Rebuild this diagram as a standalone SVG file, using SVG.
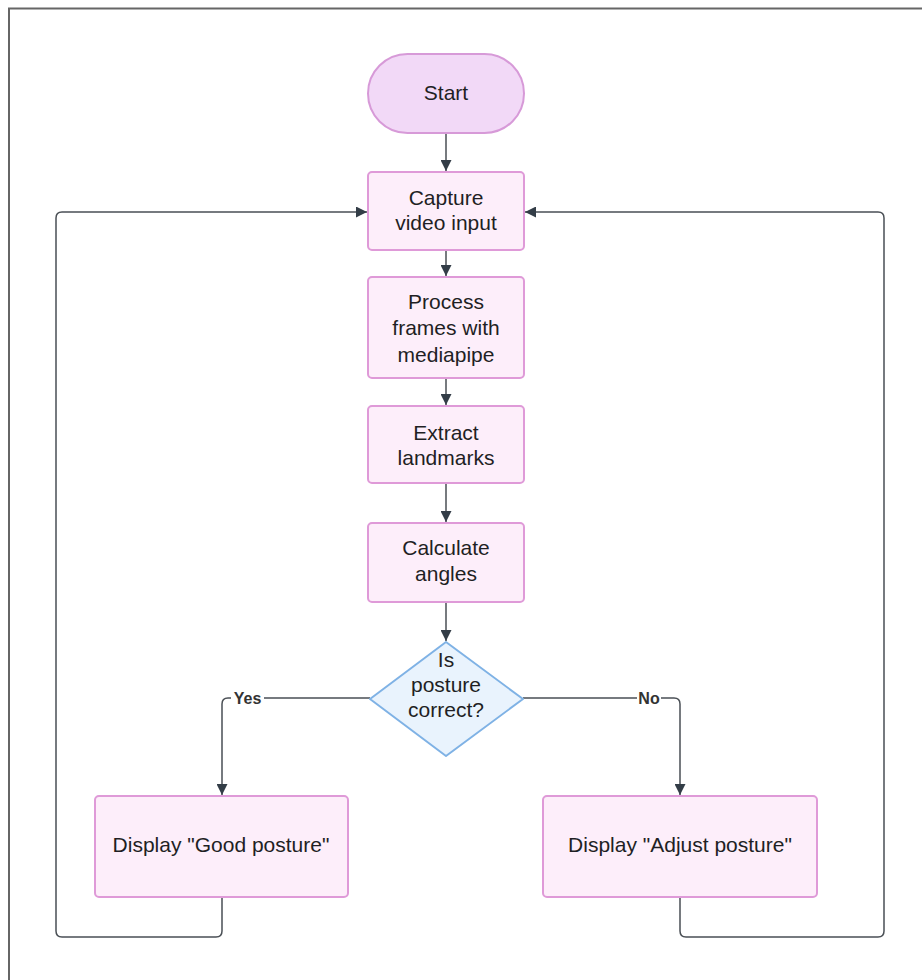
<svg xmlns="http://www.w3.org/2000/svg" width="922" height="980" viewBox="0 0 922 980">
<defs>
<style>
.proc{fill:#fdeefa;stroke:#df9ad8;stroke-width:2}
.term{fill:#f2d9f7;stroke:#d79ad8;stroke-width:2}
.dec{fill:#e9f3fd;stroke:#7fb2e5;stroke-width:2}
.t{font-family:"Liberation Sans",Arial,sans-serif;font-size:21px;fill:#1f1f24;text-anchor:middle}
.lbl{font-family:"Liberation Sans",Arial,sans-serif;font-size:16px;font-weight:bold;fill:#333;text-anchor:middle}
.c{fill:none;stroke:#4a4f55;stroke-width:1.5}
</style>
<marker id="ah" viewBox="0 0 10 10" refX="10" refY="5" markerWidth="11" markerHeight="11" markerUnits="userSpaceOnUse" orient="auto">
<path d="M0,0 L10,5 L0,10 z" fill="#333d47"/>
</marker>
</defs>
<rect width="922" height="980" fill="#ffffff"/>
<path d="M9,980 V8.5 H922" fill="none" stroke="#666" stroke-width="2"/>
<g id="connectors">
<path class="c" d="M446,133 V171" marker-end="url(#ah)"/>
<path class="c" d="M446,250 V276" marker-end="url(#ah)"/>
<path class="c" d="M446,378 V405" marker-end="url(#ah)"/>
<path class="c" d="M446,483 V522" marker-end="url(#ah)"/>
<path class="c" d="M446,602 V641" marker-end="url(#ah)"/>
<path class="c" d="M370,698 H228 Q222,698 222,704 V795" marker-end="url(#ah)"/>
<path class="c" d="M523,698 H674 Q680,698 680,704 V795" marker-end="url(#ah)"/>
<path class="c" d="M222,897 V931 Q222,937 216,937 H62 Q56,937 56,931 V218 Q56,212 62,212 H367" marker-end="url(#ah)"/>
<path class="c" d="M680,897 V931 Q680,937 686,937 H878 Q884,937 884,931 V218 Q884,212 878,212 H525" marker-end="url(#ah)"/>
<rect x="231" y="689" width="33" height="18" fill="#fff"/>
<text class="lbl" x="247.5" y="704">Yes</text>
<rect x="637" y="689" width="24" height="18" fill="#fff"/>
<text class="lbl" x="649" y="704">No</text>
</g>
<g id="start">
<rect class="term" x="368" y="54" width="156" height="79" rx="39.5"/>
<text class="t" x="446" y="100">Start</text>
</g>
<g id="capture">
<rect class="proc" x="368" y="172" width="156" height="78" rx="4"/>
<text class="t" x="446" y="205">Capture</text>
<text class="t" x="446" y="230">video input</text>
</g>
<g id="process">
<rect class="proc" x="368" y="277" width="156" height="101" rx="4"/>
<text class="t" x="446" y="309">Process</text>
<text class="t" x="446" y="335">frames with</text>
<text class="t" x="446" y="362">mediapipe</text>
</g>
<g id="extract">
<rect class="proc" x="368" y="406" width="156" height="77" rx="4"/>
<text class="t" x="446" y="440">Extract</text>
<text class="t" x="446" y="465">landmarks</text>
</g>
<g id="calculate">
<rect class="proc" x="368" y="523" width="156" height="79" rx="4"/>
<text class="t" x="446" y="555">Calculate</text>
<text class="t" x="446" y="581">angles</text>
</g>
<g id="decision">
<path class="dec" d="M446,642 L523,699 L446,756 L370,699 Z" stroke-linejoin="round"/>
<text class="t" x="446" y="667">Is</text>
<text class="t" x="446" y="692">posture</text>
<text class="t" x="446" y="717">correct?</text>
</g>
<g id="good">
<rect class="proc" x="95" y="796" width="253" height="101" rx="4"/>
<text class="t" x="221" y="852">Display "Good posture"</text>
</g>
<g id="adjust">
<rect class="proc" x="543" y="796" width="274" height="101" rx="4"/>
<text class="t" x="680" y="852">Display "Adjust posture"</text>
</g>
</svg>
